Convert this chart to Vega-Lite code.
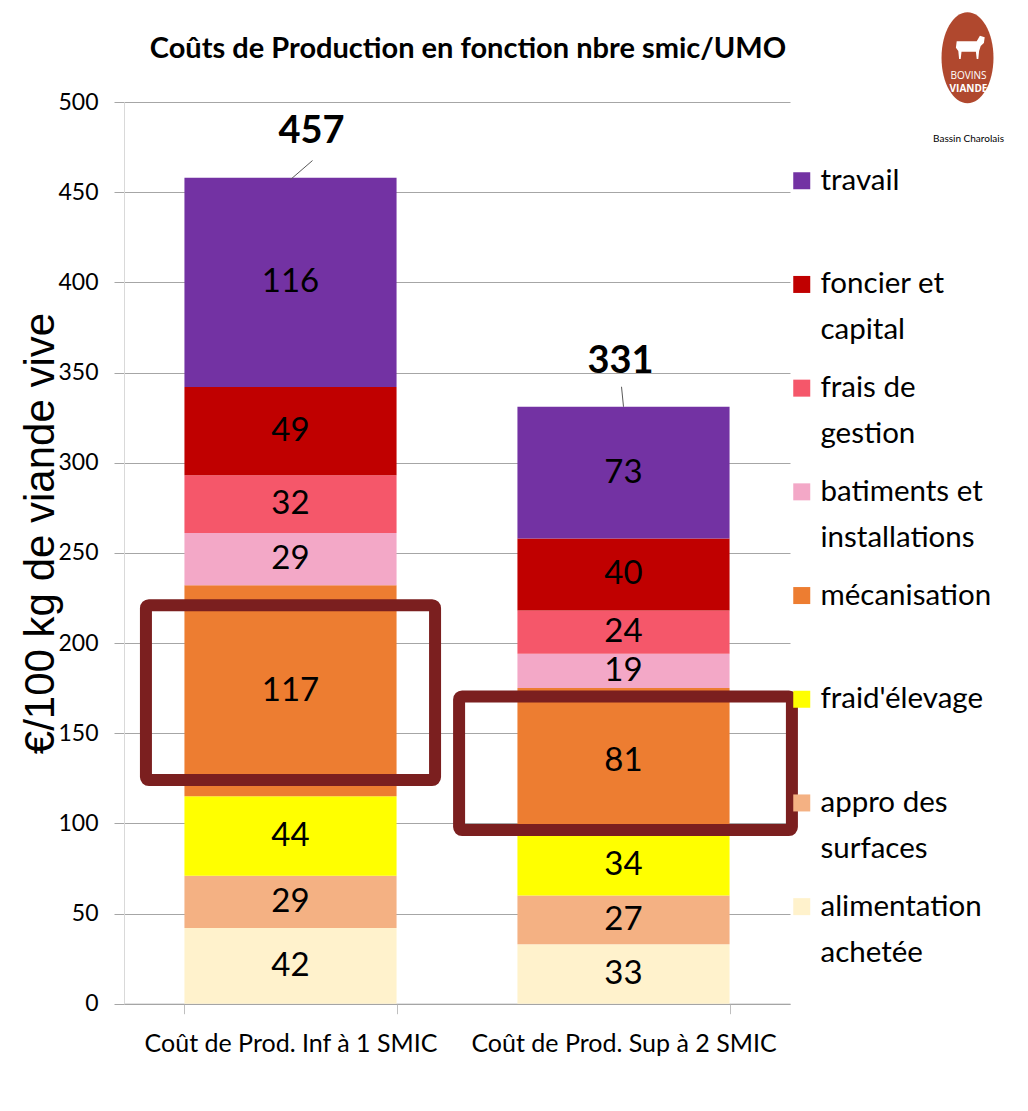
{
  "$schema": "https://vega.github.io/schema/vega-lite/v6.json",
  "autosize": "none",
  "width": 666,
  "height": 901.7,
  "padding": {"left": 124, "top": 102, "right": 238, "bottom": 107.3},
  "background": "white",
  "title": {
    "text": "Coûts de Production en fonction nbre smic/UMO",
    "font": "Lato",
    "fontSize": 29,
    "fontWeight": "bold",
    "color": "black",
    "anchor": "middle",
    "frame": "group",
    "dx": 11,
    "offset": -52
  },
  "datasets": {
    "couts": [
      {"groupe": "Coût de Prod.  Inf à 1 SMIC", "poste": "alimentation achetée", "ordre": 1, "valeur": 42},
      {"groupe": "Coût de Prod.  Inf à 1 SMIC", "poste": "appro des surfaces", "ordre": 2, "valeur": 29},
      {"groupe": "Coût de Prod.  Inf à 1 SMIC", "poste": "fraid'élevage", "ordre": 3, "valeur": 44},
      {"groupe": "Coût de Prod.  Inf à 1 SMIC", "poste": "mécanisation", "ordre": 4, "valeur": 117},
      {"groupe": "Coût de Prod.  Inf à 1 SMIC", "poste": "batiments et installations", "ordre": 5, "valeur": 29},
      {"groupe": "Coût de Prod.  Inf à 1 SMIC", "poste": "frais de gestion", "ordre": 6, "valeur": 32},
      {"groupe": "Coût de Prod.  Inf à 1 SMIC", "poste": "foncier et capital", "ordre": 7, "valeur": 49},
      {"groupe": "Coût de Prod.  Inf à 1 SMIC", "poste": "travail", "ordre": 8, "valeur": 116},
      {"groupe": "Coût de Prod. Sup à 2 SMIC", "poste": "alimentation achetée", "ordre": 1, "valeur": 33},
      {"groupe": "Coût de Prod. Sup à 2 SMIC", "poste": "appro des surfaces", "ordre": 2, "valeur": 27},
      {"groupe": "Coût de Prod. Sup à 2 SMIC", "poste": "fraid'élevage", "ordre": 3, "valeur": 34},
      {"groupe": "Coût de Prod. Sup à 2 SMIC", "poste": "mécanisation", "ordre": 4, "valeur": 81},
      {"groupe": "Coût de Prod. Sup à 2 SMIC", "poste": "batiments et installations", "ordre": 5, "valeur": 19},
      {"groupe": "Coût de Prod. Sup à 2 SMIC", "poste": "frais de gestion", "ordre": 6, "valeur": 24},
      {"groupe": "Coût de Prod. Sup à 2 SMIC", "poste": "foncier et capital", "ordre": 7, "valeur": 40},
      {"groupe": "Coût de Prod. Sup à 2 SMIC", "poste": "travail", "ordre": 8, "valeur": 73}
    ],
    "totaux": [
      {"groupe": "Coût de Prod.  Inf à 1 SMIC", "total": 457},
      {"groupe": "Coût de Prod. Sup à 2 SMIC", "total": 331}
    ],
    "cadres": [
      {"groupe": "Coût de Prod.  Inf à 1 SMIC", "bas": 124, "haut": 221},
      {"groupe": "Coût de Prod. Sup à 2 SMIC", "bas": 96.3, "haut": 170.4}
    ]
  },
  "encoding": {
    "x": {
      "field": "groupe",
      "type": "nominal",
      "sort": null,
      "scale": {"paddingInner": 0.363, "paddingOuter": 0.1815},
      "axis": {
        "title": null,
        "labelAngle": 0,
        "labelFont": "Lato",
        "labelFontSize": 25,
        "labelColor": "black",
        "labelPadding": 18,
        "tickBand": "extent",
        "tickSize": 10,
        "tickColor": "#bfbfbf",
        "domainColor": "#a6a6a6",
        "labelLimit": 400,
        "grid": false
      }
    }
  },
  "layer": [
    {
      "data": {"name": "couts"},
      "mark": {"type": "bar"},
      "encoding": {
        "y": {
          "field": "valeur",
          "type": "quantitative",
          "stack": "zero",
          "scale": {"domain": [0, 500], "nice": false},
          "axis": {
            "title": "€/100 kg de viande vive",
            "titleFont": "Liberation Sans",
            "titleFontSize": 42,
            "titleFontWeight": "normal",
            "titleColor": "black",
            "titleAngle": -90,
            "titleX": -84,
            "titleY": 431,
            "titleAlign": "center",
            "titleBaseline": "middle",
            "values": [0, 50, 100, 150, 200, 250, 300, 350, 400, 450, 500],
            "labelFont": "Lato",
            "labelFontSize": 23,
            "labelColor": "black",
            "labelPadding": 16,
            "tickSize": 10,
            "tickColor": "#a6a6a6",
            "domainColor": "#d9d9d9",
            "grid": true,
            "gridColor": "#a6a6a6",
            "gridWidth": 1
          }
        },
        "color": {
          "field": "poste",
          "type": "nominal",
          "scale": {
            "domain": ["travail", "foncier et capital", "frais de gestion", "batiments et installations", "mécanisation", "fraid'élevage", "appro des surfaces", "alimentation achetée"],
            "range": ["#7332a3", "#c00000", "#f5576a", "#f3a8c7", "#ed7d31", "#ffff00", "#f4b183", "#fff2cc"]
          },
          "legend": {
            "orient": "none",
            "legendX": 663,
            "legendY": 64,
            "title": null,
            "padding": 0,
            "symbolType": "square",
            "symbolSize": 289,
            "symbolStrokeWidth": 0,
            "symbolOpacity": 1,
            "labelFont": "Lato",
            "labelFontSize": 29.5,
            "labelColor": "black",
            "labelLimit": 400,
            "labelOffset": 4,
            "rowPadding": 26.7,
            "labelExpr": "datum.label == 'foncier et capital' ? ['foncier et', 'capital'] : datum.label == 'frais de gestion' ? ['frais de', 'gestion'] : datum.label == 'batiments et installations' ? ['batiments et', 'installations'] : datum.label == 'appro des surfaces' ? ['appro des', 'surfaces'] : datum.label == 'alimentation achetée' ? ['alimentation', 'achetée'] : [datum.label, '']",
            "encode": {"labels": {"update": {"lineHeight": {"value": 46}}}}
          }
        },
        "order": {"field": "ordre", "type": "quantitative"}
      }
    },
    {
      "data": {"name": "couts"},
      "transform": [
        {"stack": "valeur", "groupby": ["groupe"], "sort": [{"field": "ordre"}], "as": ["y0", "y1"]},
        {"calculate": "(datum.y0 + datum.y1) / 2", "as": "ymid"}
      ],
      "mark": {"type": "text", "font": "Lato", "fontSize": 33, "color": "black", "baseline": "middle"},
      "encoding": {
        "y": {"field": "ymid", "type": "quantitative"},
        "text": {"field": "valeur", "type": "quantitative"}
      }
    },
    {
      "data": {"name": "cadres"},
      "transform": [{"filter": "datum.groupe == 'Coût de Prod.  Inf à 1 SMIC'"}],
      "mark": {"type": "bar", "width": {"band": 1.363}, "fill": null, "fillOpacity": 0, "stroke": "#7b1f1f", "strokeWidth": 12, "cornerRadius": 3},
      "encoding": {
        "y": {"field": "bas", "type": "quantitative"},
        "y2": {"field": "haut"}
      }
    },
    {
      "data": {"name": "cadres"},
      "transform": [{"filter": "datum.groupe == 'Coût de Prod. Sup à 2 SMIC'"}],
      "mark": {"type": "bar", "width": {"band": 1.569}, "xOffset": 2, "fill": null, "fillOpacity": 0, "stroke": "#7b1f1f", "strokeWidth": 12, "cornerRadius": 3},
      "encoding": {
        "y": {"field": "bas", "type": "quantitative"},
        "y2": {"field": "haut"}
      }
    },
    {
      "data": {"name": "totaux"},
      "transform": [{"filter": "datum.groupe == 'Coût de Prod.  Inf à 1 SMIC'"}],
      "mark": {"type": "rule", "color": "#595959", "strokeWidth": 1, "x2Offset": 22, "y2Offset": -19},
      "encoding": {
        "x2": {"field": "groupe"},
        "y": {"field": "total", "type": "quantitative"},
        "y2": {"field": "total"}
      }
    },
    {
      "data": {"name": "totaux"},
      "transform": [{"filter": "datum.groupe == 'Coût de Prod. Sup à 2 SMIC'"}],
      "mark": {"type": "rule", "color": "#595959", "strokeWidth": 1, "x2Offset": -2, "y2Offset": -20},
      "encoding": {
        "x2": {"field": "groupe"},
        "y": {"field": "total", "type": "quantitative"},
        "y2": {"field": "total"}
      }
    },
    {
      "data": {"name": "totaux"},
      "transform": [{"filter": "datum.groupe == 'Coût de Prod.  Inf à 1 SMIC'"}],
      "mark": {"type": "text", "font": "Lato", "fontSize": 38, "fontWeight": "bold", "color": "black", "baseline": "alphabetic", "dx": 21, "dy": -37},
      "encoding": {
        "y": {"field": "total", "type": "quantitative"},
        "text": {"field": "total", "type": "quantitative"}
      }
    },
    {
      "data": {"name": "totaux"},
      "transform": [{"filter": "datum.groupe == 'Coût de Prod. Sup à 2 SMIC'"}],
      "mark": {"type": "text", "font": "Lato", "fontSize": 38, "fontWeight": "bold", "color": "black", "baseline": "alphabetic", "dx": -3, "dy": -34},
      "encoding": {
        "y": {"field": "total", "type": "quantitative"},
        "text": {"field": "total", "type": "quantitative"}
      }
    },
    {
      "data": {"values": [{}]},
      "mark": {"type": "point", "filled": true, "shape": "M 0 -1 A 0.571 1 0 1 1 0 1 A 0.571 1 0 1 1 0 -1 Z", "size": 8281, "color": "#b0482e", "opacity": 1, "xOffset": 344, "clip": false},
      "encoding": {
        "x": {"datum": "Coût de Prod. Sup à 2 SMIC"},
        "y": {"datum": 524.5}
      }
    },
    {
      "data": {"values": [{}]},
      "mark": {"type": "point", "filled": true, "shape": "M -0.8 -0.3 L 0.45 -0.3 L 0.65 -0.65 L 0.95 -0.55 L 0.9 -0.2 L 0.7 0.0 L 0.6 0.3 L 0.55 0.8 L 0.45 0.8 L 0.4 0.35 L -0.5 0.35 L -0.55 0.8 L -0.65 0.8 L -0.7 0.3 L -0.85 0.1 Z", "size": 1024, "color": "white", "opacity": 1, "xOffset": 346, "clip": false},
      "encoding": {
        "x": {"datum": "Coût de Prod. Sup à 2 SMIC"},
        "y": {"datum": 531}
      }
    },
    {
      "data": {"values": [{}]},
      "mark": {"type": "text", "text": "BOVINS", "font": "Open Sans", "fontSize": 10, "color": "white", "xOffset": 345, "baseline": "middle"},
      "encoding": {
        "x": {"datum": "Coût de Prod. Sup à 2 SMIC"},
        "y": {"datum": 514.5}
      }
    },
    {
      "data": {"values": [{}]},
      "mark": {"type": "text", "text": "VIANDE", "font": "Open Sans", "fontSize": 10, "fontWeight": "bold", "color": "white", "xOffset": 345, "baseline": "middle"},
      "encoding": {
        "x": {"datum": "Coût de Prod. Sup à 2 SMIC"},
        "y": {"datum": 507}
      }
    },
    {
      "data": {"values": [{}]},
      "mark": {"type": "text", "text": "Bassin Charolais", "font": "Lato", "fontSize": 10, "color": "black", "xOffset": 345, "baseline": "middle"},
      "encoding": {
        "x": {"datum": "Coût de Prod. Sup à 2 SMIC"},
        "y": {"datum": 479.5}
      }
    }
  ],
  "config": {
    "view": {"stroke": null},
    "font": "Lato"
  }
}
